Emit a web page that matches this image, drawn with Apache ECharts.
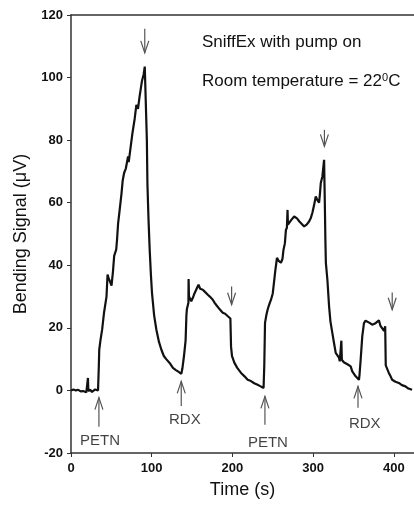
<!DOCTYPE html>
<html>
<head>
<meta charset="utf-8">
<script src="https://cdn.jsdelivr.net/npm/echarts@6/dist/echarts.min.js"></script>
<style>html,body{margin:0;padding:0;background:#fff}#c{width:414px;height:507px}</style>
</head>
<body>
<div id="c"></div>
<script>
// Signal trace: time (s) and bending signal (µV)
var timeS = [0,3,6,9,12,15,17,19,20.5,21,21.5,24,26,28,30,32,33.5,
 34.5,35,36.5,38.6,41,44,45.3,46.5,48,50.2,52,53.5,56,57,58.4,60,62.6,64,65.8,68,70.7,71.5,73,76,79,81,83,85,88,90,91.4,93,93.5,
 94,94.7,96,97.5,99,100.4,103,105.8,109,112,115,118,120,123,126.3,130,133,134.6,136.7,
 138,140,142,143,143.6,144.5,145.5,145.7,146.2,147,149,151,153,155,156.5,158,160,163.3,166,169.5,172,175.7,178,180,181.9,184,186,188,191,194,196.3,
 197.5,198.3,199.5,202.5,206,210.7,215,218.9,223,227,231.2,235,238.6,
 239.5,240.4,242,243.6,245,247.8,249,250,251.9,253,255.2,257,258.5,260.1,262,263.3,265,266.3,267.5,268.3,268.8,270.4,273,276.5,280,283,285,288.9,292,295,297,299.1,301,303.3,305,307.4,308.5,309.5,311.5,313.6,
 314.5,315.2,315.8,317.7,319.8,321.5,323.8,326,328,330,332,333,334.5,335,335.6,336.2,338,340.4,343,346.5,348.5,350,352.7,355,356.8,
 357.5,358.9,360.9,363,365,367,370,373.2,375,377.4,379.5,381.5,383.5,385.6,387.8,388.5,389.3,390,391.7,393.8,396,397.9,402,406.2,410,414.4,418,422.6];
var signal = [0,0.3,0,0.2,-0.3,-0.2,-0.8,-0.6,-0.3,4,-0.2,0.2,-0.5,0,0.3,-0.2,0,
 8,13,16,19.5,25,30,37,36,35,33.5,38,43,45,48,53.5,57,63,67,69.5,71,74.8,73,76,82,87,91.3,90,94,99,101,103.5,104,103.6,
 80,66,55,45,37,31,24,19.4,15.5,13,11,10,9.5,8.5,7.2,6.5,6,5.6,5.3,
 7,11,16,24,26,25.5,28,35.6,30,30,28.5,29.6,31,31.5,33,33.8,32.5,32.2,31.5,30.6,30,29,28,27.3,26.8,26,25.5,24.8,24.5,23.8,23.6,
 23,14,11,8.8,7.2,5.6,4.5,3.4,3,2.3,1.8,1.3,0.8,
 8,21.6,24,25.8,27,29,28.5,31,35.4,38,42.4,41.5,41,40.8,42,45,47,51.3,52,57.7,53,53.5,54.5,55.6,55,54,53.5,52.4,53,54,55,56.8,59,62,61,60,63,66.3,68.4,73.7,
 60,48,40.8,35.3,26.8,22,18.4,15,12,12,10.5,9.3,9.5,15.9,9.8,9.3,9,8.8,8.3,7.7,6.1,5.5,4.5,4,3.4,
 5,9.8,17.3,21.5,22.3,22,21.6,21,21.3,21.5,21.8,22.4,20.6,20.4,19,19.6,20.5,8,7.7,5.6,4.5,3.4,2.8,2.4,1.7,1.3,0.6,0.2];

// Arrows: x position, tip value, tail value
var arrowX    = [34.6, 136.6, 240.3, 355.6, 91.4, 199, 314, 398];
var arrowTip  = [-2.3,  2.9,  -1.9,   1.3, 107.9, 27.4, 78, 25.8];
var arrowTail = [-11.6, -5,   -11,   -5.5, 115.6, 33.2, 83.3, 31.3];

// Sample labels
var sampleNames = ['PETN','RDX','PETN','RDX'];
var sampleX     = [36, 141, 244, 364];
var sampleY     = [-16, -9.4, -16.6, -10.6];

var xTicks = [0,100,200,300,400];
var yTicks = [-20,0,20,40,60,80,100,120];

var traceData = timeS.map(function(t,i){return [t, signal[i]];});
var arrowData = arrowX.map(function(x,i){return [x, arrowTip[i], arrowTail[i]];});
var labelData = sampleX.map(function(x,i){return {value:[x, sampleY[i]], name:sampleNames[i]};});

var chart = echarts.init(document.getElementById('c'), null, {renderer:'canvas'});
var FONT = 'Liberation Sans, Arial, sans-serif';
chart.setOption({
  animation:false,
  backgroundColor:'#fff',
  grid:{left:71, right:0, top:15, bottom:54, containLabel:false},
  xAxis:[{
    type:'value', min:0, max:425, interval:100,
    name:'Time (s)', nameLocation:'middle', nameGap:28,
    nameTextStyle:{fontFamily:FONT, fontSize:18, color:'#111'},
    axisLine:{show:true, onZero:false, lineStyle:{color:'#333', width:1.5}},
    axisTick:{show:true, length:4, lineStyle:{color:'#333'}},
    axisLabel:{fontFamily:FONT, fontSize:13, fontWeight:'bold', color:'#111', margin:9, showMaxLabel:false,
      formatter:function(v){return xTicks.indexOf(v)>=0 ? String(v) : '';}},
    splitLine:{show:false}
  },{
    type:'value', position:'top', min:0, max:425,
    axisLine:{show:true, onZero:false, lineStyle:{color:'#333', width:1.5}},
    axisTick:{show:false}, axisLabel:{show:false}, splitLine:{show:false}
  }],
  yAxis:{
    type:'value', min:-20, max:120, interval:20,
    name:'Bending Signal (\u03bcV)', nameLocation:'middle', nameGap:40,
    nameTextStyle:{fontFamily:FONT, fontSize:18, color:'#111'},
    axisLine:{show:true, onZero:false, lineStyle:{color:'#333', width:1.5}},
    axisTick:{show:true, length:4, lineStyle:{color:'#333'}},
    axisLabel:{fontFamily:FONT, fontSize:13, fontWeight:'bold', color:'#111', margin:8,
      formatter:function(v){return yTicks.indexOf(v)>=0 ? String(v) : '';}},
    splitLine:{show:false}
  },
  series:[{
    type:'line', data:traceData, showSymbol:false, symbol:'none',
    lineStyle:{color:'#111', width:2.2}, z:3
  },{
    type:'custom', data:arrowData, z:4,
    renderItem:function(params, api){
      var tip = api.coord([api.value(0), api.value(1)]);
      var tail = api.coord([api.value(0), api.value(2)]);
      var s = tail[1] > tip[1] ? 1 : -1;
      var hl = 12, hw = 4;
      return {type:'group', children:[
        {type:'line', shape:{x1:tail[0], y1:tail[1], x2:tip[0], y2:tip[1]}, style:{stroke:'#555', lineWidth:1.2}},
        {type:'polyline', shape:{points:[[tip[0]-hw, tip[1]+s*hl],[tip[0], tip[1]],[tip[0]+hw, tip[1]+s*hl]]}, style:{stroke:'#555', lineWidth:1.2, fill:null}}
      ]};
    }
  },{
    type:'scatter', data:labelData, symbolSize:0, z:5,
    label:{show:true, position:'inside', formatter:'{b}', fontFamily:FONT, fontSize:15, color:'#111'}
  }],
  graphic:[{
    type:'text', left:202, top:34,
    style:{text:'SniffEx with pump on', font:'17px Liberation Sans, Arial, sans-serif', fill:'#111'}
  },{
    type:'text', left:202, top:72,
    style:{
      text:'{a|Room temperature = 22}{s|0}{a|C}',
      rich:{
        a:{fontFamily:FONT, fontSize:17, fill:'#111', color:'#111', verticalAlign:'bottom'},
        s:{fontFamily:FONT, fontSize:11, fill:'#111', color:'#111', verticalAlign:'top', padding:[0,0,7,0]}
      }
    }
  }]
});
</script>
</body>
</html>
